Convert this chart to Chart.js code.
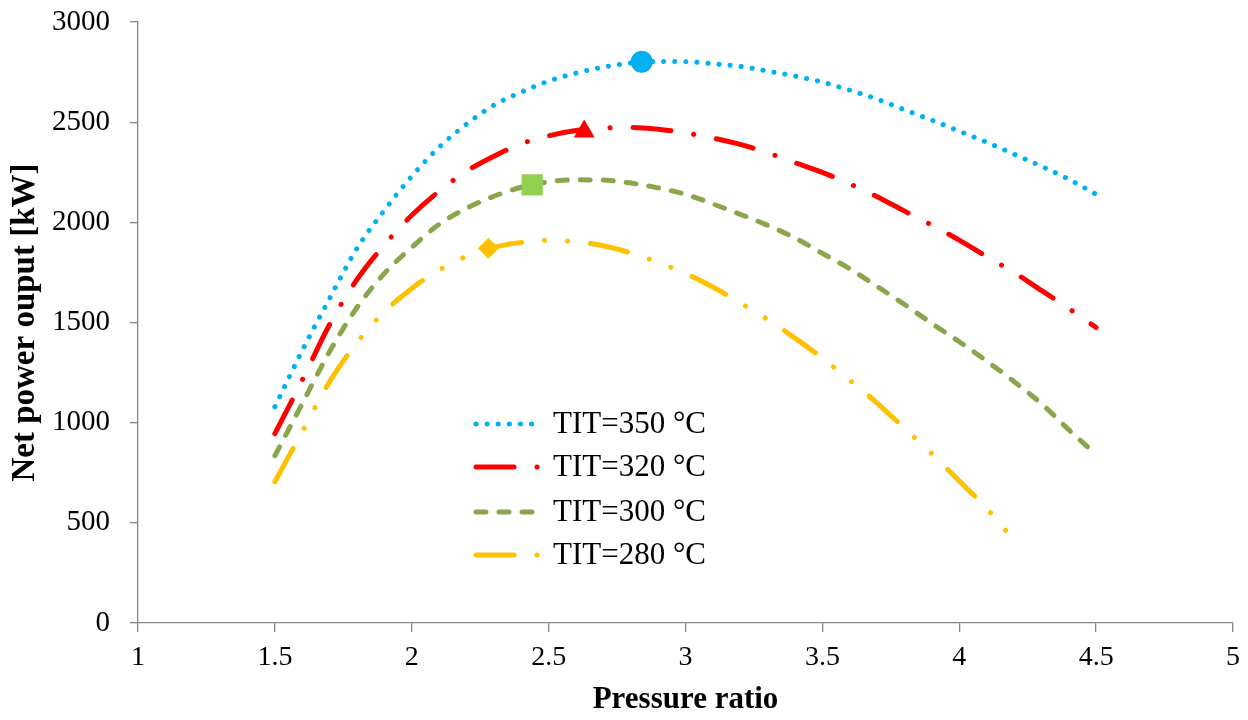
<!DOCTYPE html>
<html>
<head>
<meta charset="utf-8">
<script src="https://cdn.jsdelivr.net/npm/chart.js@4.4.1/dist/chart.umd.min.js"></script>
<style>
  html, body { margin: 0; padding: 0; background: #ffffff; }
  #wrap { width: 1248px; height: 720px; }
</style>
</head>
<body>
<div id="wrap"><canvas id="myChart" width="1248" height="720"></canvas></div>
<script>
'use strict'

// Pressure ratio (x) for the three long curves
let pressureRatio = [1.5, 1.6, 1.7, 1.8, 1.9, 2.0, 2.1, 2.2, 2.3, 2.4, 2.5, 2.6, 2.7, 2.8, 2.9, 3.0,
  3.1, 3.2, 3.3, 3.4, 3.5, 3.6, 3.7, 3.8, 3.9, 4.0, 4.1, 4.2, 4.3, 4.4, 4.5];

// Net power output [kW]
let tit350 = [1080, 1360, 1620, 1870, 2060, 2230, 2375, 2490, 2585, 2650, 2705, 2745, 2775, 2795, 2803, 2802,
  2792, 2778, 2755, 2730, 2700, 2660, 2615, 2562, 2510, 2455, 2400, 2340, 2280, 2215, 2140];
let tit320 = [945, 1212, 1490, 1715, 1888, 2035, 2155, 2255, 2330, 2392, 2432, 2458, 2470, 2474, 2465, 2446,
  2421, 2389, 2347, 2298, 2249, 2192, 2128, 2056, 1986, 1911, 1829, 1750, 1660, 1570, 1475];
let tit300 = [835, 1095, 1355, 1575, 1745, 1875, 1990, 2070, 2130, 2175, 2202, 2212, 2211, 2196, 2172, 2140,
  2092, 2040, 1985, 1922, 1845, 1768, 1680, 1590, 1495, 1404, 1308, 1205, 1095, 965, 840];

// 280 °C curve stops earlier
let pressureRatio280 = [1.5, 1.6, 1.7, 1.8, 1.9, 2.0, 2.1, 2.2, 2.3, 2.4, 2.5, 2.6, 2.7, 2.8, 2.9, 3.0,
  3.1, 3.2, 3.3, 3.4, 3.5, 3.6, 3.7, 3.8, 3.9, 4.0, 4.1, 4.2, 4.22];
let tit280 = [705, 955, 1205, 1400, 1553, 1670, 1762, 1830, 1875, 1900, 1910, 1903, 1883, 1847, 1800, 1745,
  1677, 1597, 1515, 1422, 1322, 1212, 1098, 972, 845, 709, 572, 413, 380];

// optimum points (markers)
let optimumRatio = [2.84, 2.63, 2.44, 2.28];
let optimumPower = [2802, 2453, 2187, 1871];

let seriesLabels = ['TIT=350 °C', 'TIT=320 °C', 'TIT=300 °C', 'TIT=280 °C'];
let lineColors = ['#00B0F0', '#FF0000', '#8AA64C', '#FFC000'];
let markerColors = ['#00B0F0', '#FF0000', '#92D050', '#FFC000'];
let markerStyles = ['circle', 'triangle', 'rect', 'rectRot'];
let markerSizes = [11, 12, 15, 10.5];
let dashes = [[0.1, 11], [38, 23, 0.1, 23], [10, 13], [38, 23, 0.1, 23, 0.1, 23]];

const serif = "'Liberation Serif', 'Times New Roman', serif";
const axisGray = '#868686';

function toPoints(xs, ys) {
  let pts = [];
  for (let i = 0; i < xs.length; i++) {
    pts.push({ x: xs[i], y: ys[i] });
  }
  return pts;
}

let curveX = [pressureRatio, pressureRatio, pressureRatio, pressureRatio280];
let curveY = [tit350, tit320, tit300, tit280];

let datasets = [];
for (let i = 0; i < 4; i++) {
  datasets.push({
    label: seriesLabels[i],
    data: toPoints(curveX[i], curveY[i]),
    showLine: true,
    borderColor: lineColors[i],
    borderWidth: 5,
    borderDash: dashes[i],
    borderCapStyle: 'round',
    cubicInterpolationMode: 'monotone',
    pointRadius: 0,
    order: 2
  });
}
for (let i = 0; i < 4; i++) {
  datasets.push({
    label: 'opt' + i,
    data: [{ x: optimumRatio[i], y: optimumPower[i] }],
    showLine: false,
    pointStyle: markerStyles[i],
    pointRadius: markerSizes[i],
    pointBackgroundColor: markerColors[i],
    pointBorderColor: markerColors[i],
    pointBorderWidth: 0,
    order: 0
  });
}

// legend sits inside the plot, drawn by hand so the dash samples match
const insideLegend = {
  id: 'insideLegend',
  afterDraw(chart) {
    const ctx = chart.ctx;
    let rowY = [424, 467, 512, 555];
    ctx.save();
    for (let i = 0; i < 4; i++) {
      ctx.beginPath();
      ctx.setLineDash(dashes[i]);
      ctx.lineCap = 'round';
      ctx.lineWidth = 5;
      ctx.strokeStyle = lineColors[i];
      ctx.moveTo(476, rowY[i]);
      ctx.lineTo(540, rowY[i]);
      ctx.stroke();
      ctx.setLineDash([]);
      ctx.fillStyle = '#000000';
      ctx.font = '31px ' + serif;
      ctx.textAlign = 'left';
      ctx.textBaseline = 'middle';
      ctx.fillText(seriesLabels[i], 553, rowY[i] + 1);
    }
    ctx.restore();
  }
};

const ctx = document.getElementById('myChart');

new Chart(ctx, {
  type: 'scatter',
  data: { datasets: datasets },
  plugins: [insideLegend],
  options: {
    responsive: false,
    animation: false,
    layout: { padding: { top: 22, right: 15, left: 0, bottom: 0 } },
    plugins: {
      legend: { display: false },
      tooltip: { enabled: false }
    },
    scales: {
      x: {
        type: 'linear',
        min: 1,
        max: 5,
        afterFit: (scale) => {
          scale.height = 97;
          scale.paddingLeft = 0;
          scale.paddingRight = 0;
        },
        ticks: {
          stepSize: 0.5,
          color: '#000000',
          font: { family: serif, size: 28 },
          padding: 9,
          maxRotation: 0,
          callback: (value) => String(value)
        },
        grid: { drawOnChartArea: false, drawTicks: true, tickLength: 9, color: axisGray, lineWidth: 1.3 },
        border: { color: axisGray, width: 1.3 },
        title: {
          display: true,
          text: 'Pressure ratio',
          color: '#000000',
          font: { family: serif, size: 31, weight: 'bold' },
          padding: { top: 0, bottom: 1 }
        }
      },
      y: {
        min: 0,
        max: 3000,
        afterFit: (scale) => {
          scale.width = 138;
          scale.paddingTop = 0;
          scale.paddingBottom = 0;
        },
        ticks: {
          stepSize: 500,
          color: '#000000',
          font: { family: serif, size: 29 },
          padding: 20,
          callback: (value) => String(value)
        },
        grid: { drawOnChartArea: false, drawTicks: true, tickLength: 8, color: axisGray, lineWidth: 1.3 },
        border: { color: axisGray, width: 1.3 },
        title: {
          display: true,
          text: 'Net power ouput [kW]',
          color: '#000000',
          font: { family: serif, size: 33, weight: 'bold' },
          padding: { top: 6, bottom: 0 }
        }
      }
    }
  }
});
</script>
</body>
</html>
